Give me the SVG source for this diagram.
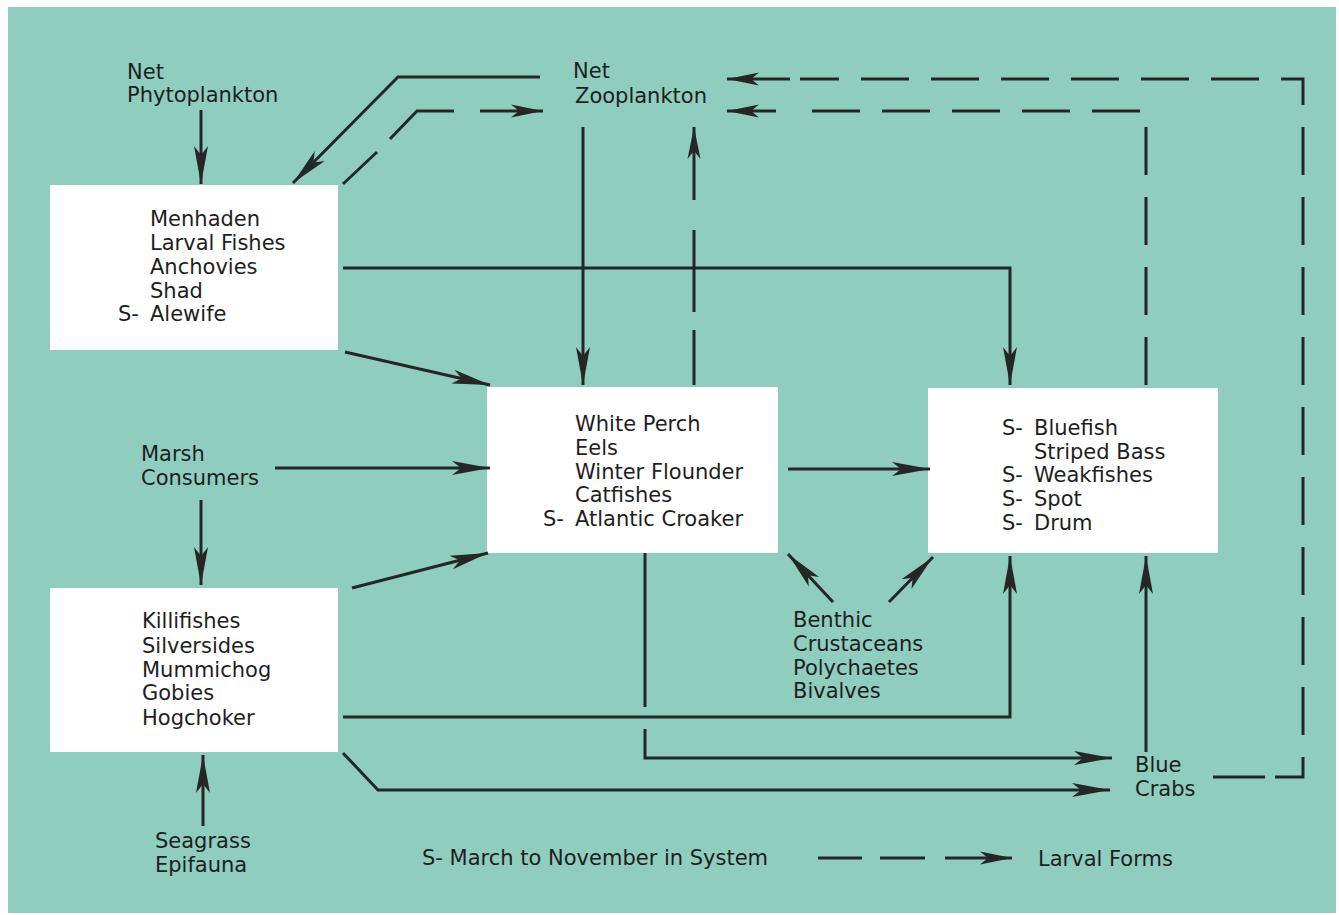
<svg xmlns="http://www.w3.org/2000/svg" width="1339" height="915" viewBox="0 0 1339 915">
<defs>
<style>
.t{font-family:"DejaVu Sans","Liberation Sans",sans-serif;font-size:21px;fill:#1e1e1e}
.box{fill:#ffffff}
.c{fill:none;stroke:#262626;stroke-width:3}
</style>
<marker id="a" markerUnits="userSpaceOnUse" viewBox="0 -8 40 16" markerWidth="40" markerHeight="16" refX="38" refY="0" orient="auto">
<path d="M0,-7 L38,0 L0,7 L9,0 Z" fill="#262626"/>
</marker>
<marker id="d" markerUnits="userSpaceOnUse" viewBox="0 -8 34 16" markerWidth="34" markerHeight="16" refX="32" refY="0" orient="auto">
<path d="M0,-6.5 L32,0 L0,6.5 L8,0 Z" fill="#262626"/>
</marker>
</defs>
<rect x="0" y="0" width="1339" height="915" fill="#ffffff"/>
<rect x="8" y="7" width="1328" height="906" fill="#8fcdbf"/>

<g id="n-phyto"><text class="t" x="127" y="79">Net</text><text class="t" x="127" y="102">Phytoplankton</text></g>
<g id="n-zoo"><text class="t" x="573" y="78">Net</text><text class="t" x="575" y="103">Zooplankton</text></g>
<g id="n-marsh"><text class="t" x="141" y="461">Marsh</text><text class="t" x="141" y="485">Consumers</text></g>
<g id="n-seagrass"><text class="t" x="155" y="848">Seagrass</text><text class="t" x="155" y="872">Epifauna</text></g>
<g id="n-benthic"><text class="t" x="793" y="627">Benthic</text><text class="t" x="793" y="651">Crustaceans</text><text class="t" x="793" y="675">Polychaetes</text><text class="t" x="793" y="698">Bivalves</text></g>
<g id="n-crabs"><text class="t" x="1135" y="772">Blue</text><text class="t" x="1135" y="796">Crabs</text></g>

<g id="n-menhaden">
<rect class="box" x="50" y="185" width="288" height="165"/>
<text class="t" x="150" y="226">Menhaden</text>
<text class="t" x="150" y="250">Larval Fishes</text>
<text class="t" x="150" y="274">Anchovies</text>
<text class="t" x="150" y="298">Shad</text>
<text class="t" x="118" y="321">S-</text><text class="t" x="150" y="321">Alewife</text>
</g>
<g id="n-perch">
<rect class="box" x="487" y="387" width="291" height="166"/>
<text class="t" x="575" y="431">White Perch</text>
<text class="t" x="575" y="455">Eels</text>
<text class="t" x="575" y="479">Winter Flounder</text>
<text class="t" x="575" y="502">Catfishes</text>
<text class="t" x="543" y="526">S-</text><text class="t" x="575" y="526">Atlantic Croaker</text>
</g>
<g id="n-bluefish">
<rect class="box" x="928" y="388" width="290" height="165"/>
<text class="t" x="1002" y="435">S-</text><text class="t" x="1034" y="435">Bluefish</text>
<text class="t" x="1034" y="459">Striped Bass</text>
<text class="t" x="1002" y="482">S-</text><text class="t" x="1034" y="482">Weakfishes</text>
<text class="t" x="1002" y="506">S-</text><text class="t" x="1034" y="506">Spot</text>
<text class="t" x="1002" y="530">S-</text><text class="t" x="1034" y="530">Drum</text>
</g>
<g id="n-killi">
<rect class="box" x="50" y="588" width="288" height="164"/>
<text class="t" x="142" y="628">Killifishes</text>
<text class="t" x="142" y="653">Silversides</text>
<text class="t" x="142" y="677">Mummichog</text>
<text class="t" x="142" y="700">Gobies</text>
<text class="t" x="142" y="725">Hogchoker</text>
</g>
<g id="legend">
<text class="t" x="422" y="865">S- March to November in System</text>
<text class="t" x="1038" y="866">Larval Forms</text>
</g>

<g id="connectors">
<path class="c" d="M201,110 V184" marker-end="url(#a)"/>
<path class="c" d="M540,77 H398 L293,183" marker-end="url(#a)"/>
<path class="c" d="M583,127 V385" marker-end="url(#a)"/>
<path class="c" d="M343,268 H1010 V385" marker-end="url(#a)"/>
<path class="c" d="M345,352 L490,385" marker-end="url(#a)"/>
<path class="c" d="M275,468 H490" marker-end="url(#a)"/>
<path class="c" d="M352,588 L488,553" marker-end="url(#a)"/>
<path class="c" d="M201,500 V585" marker-end="url(#a)"/>
<path class="c" d="M203,826 V755" marker-end="url(#a)"/>
<path class="c" d="M788,469 H930" marker-end="url(#a)"/>
<path class="c" d="M833,602 L788,554" marker-end="url(#a)"/>
<path class="c" d="M889,602 L933,557" marker-end="url(#a)"/>
<path class="c" d="M343,717 H1010 V556" marker-end="url(#a)"/>
<path class="c" d="M645,553 V707"/>
<path class="c" d="M645,729 V758 H1112" marker-end="url(#a)"/>
<path class="c" d="M343,753 L378,790 H1110" marker-end="url(#a)"/>
<path class="c" d="M1146,752 V556" marker-end="url(#a)"/>
<!-- dashed larval -->
<path class="c" d="M343,184 L377,152"/>
<path class="c" d="M390,139 L417,111 H454"/>
<path class="c" d="M480,111 H543" marker-end="url(#d)"/>
<path class="c" d="M694,385 V330"/>
<path class="c" d="M694,312 V230"/>
<path class="c" d="M694,200 V127" marker-end="url(#d)"/>
<path class="c" d="M1213,777 H1265"/>
<path class="c" d="M1275,777 H1303 V79 H800" stroke-dasharray="48 22"/>
<path class="c" d="M790,79 H727" marker-end="url(#d)"/>
<path class="c" d="M1146,385 V111 H805" stroke-dasharray="48 22"/>
<path class="c" d="M776,111 H727" marker-end="url(#d)"/>
<path class="c" d="M818,858 H862"/>
<path class="c" d="M880,858 H925"/>
<path class="c" d="M945,858 H1012" marker-end="url(#d)"/>
</g>
</svg>
